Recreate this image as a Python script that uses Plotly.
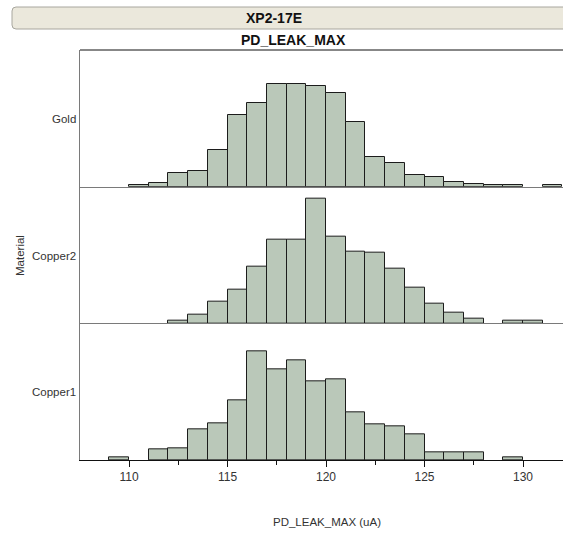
import plotly.graph_objects as go
from plotly.subplots import make_subplots

# Histogram bins (left edges, width 1 uA) and counts per material
bin_left = list(range(109, 132))
materials = ["Gold", "Copper2", "Copper1"]
gold_counts = [0, 1, 3, 11, 13, 31, 60, 70, 86, 86, 84, 78, 54, 25, 20, 10, 8, 4, 2, 1, 1, 0, 1]
copper2_counts = [0, 0, 0, 2, 7, 18, 28, 47, 70, 70, 104, 72, 60, 59, 46, 30, 16, 9, 4, 0, 2, 2, 0]
copper1_counts = [2, 0, 9, 10, 26, 31, 50, 91, 76, 83, 66, 67, 40, 30, 28, 21, 6, 6, 6, 0, 2, 0, 0]
counts = [gold_counts, copper2_counts, copper1_counts]

x_ticks = [110, 115, 120, 125, 130]
chart_title = "XP2-17E"
var_title = "PD_LEAK_MAX"
x_title = "PD_LEAK_MAX (uA)"
y_title = "Material"

W, H = 563, 533
L, R, T, B = 80, 0, 50, 73
PW, PH = W - L - R, H - T - B

def fx(px):
    return (px - L) / PW

def fy(py):
    return (H - B - py) / PH

FONT = "Liberation Sans, Arial, sans-serif"
BAR_FILL = "#bac8b9"
BAR_EDGE = "#1c1c1c"

fig = make_subplots(rows=3, cols=1, shared_xaxes=True, vertical_spacing=0)

for i, (name, c) in enumerate(zip(materials, counts)):
    xs = [b + 0.5 for b, v in zip(bin_left, c) if v > 0]
    ys = [v for v in c if v > 0]
    fig.add_trace(
        go.Bar(x=xs, y=ys, width=1, name=name, showlegend=False,
               marker=dict(color=BAR_FILL, line=dict(color=BAR_EDGE, width=1))),
        row=i + 1, col=1)

x_range = [107.51, 132.03]
for r in (1, 2, 3):
    fig.update_xaxes(range=x_range, showgrid=False, zeroline=False, showline=True,
                     row=r, col=1)
    fig.update_yaxes(range=[0, 114], showgrid=False, zeroline=False, showline=True,
                     linecolor="#7a7a7a", linewidth=1, showticklabels=False, ticks="",
                     row=r, col=1)

for r in (1, 2):
    fig.update_xaxes(linecolor="#7a7a7a", linewidth=1, ticks="", showticklabels=False,
                     row=r, col=1)

fig.update_xaxes(linecolor="#111111", linewidth=1, ticks="outside", ticklen=6,
                 tickcolor="#111111", tickvals=x_ticks,
                 ticktext=[str(v) for v in x_ticks],
                 tickfont=dict(family=FONT, size=12, color="#333333"),
                 minor=dict(dtick=2.5, tick0=110, ticks="outside", ticklen=4,
                            tickcolor="#111111"),
                 row=3, col=1)

shapes = []
# Title bar with rounded corners
x0, x1 = fx(12), fx(580)
y0, y1 = fy(29), fy(7)
rx, ry = 4 / PW, 4 / PH
path = (f"M {x0 + rx},{y1} L {x1},{y1} L {x1},{y0} L {x0 + rx},{y0} "
        f"Q {x0},{y0} {x0},{y0 + ry} L {x0},{y1 - ry} Q {x0},{y1} {x0 + rx},{y1} Z")
shapes.append(dict(type="path", xref="paper", yref="paper", path=path,
                   fillcolor="#ebe8dc", line=dict(color="#a8a69e", width=1)))
# Top frame line
shapes.append(dict(type="line", xref="paper", yref="paper", x0=0, x1=1.05, y0=1, y1=1,
                   line=dict(color="#111111", width=1)))

annotations = [
    dict(text=chart_title, x=fx(274), y=fy(18), xref="paper", yref="paper",
         showarrow=False, xanchor="center", yanchor="middle",
         font=dict(family=FONT, size=14, color="#111111", weight="bold")),
    dict(text=var_title, x=fx(293), y=fy(40), xref="paper", yref="paper",
         showarrow=False, xanchor="center", yanchor="middle",
         font=dict(family=FONT, size=14, color="#111111", weight="bold")),
    dict(text=x_title, x=fx(327), y=fy(522), xref="paper", yref="paper",
         showarrow=False, xanchor="center", yanchor="middle",
         font=dict(family=FONT, size=11.5, color="#333333")),
    dict(text=y_title, x=fx(20), y=fy(256), xref="paper", yref="paper",
         showarrow=False, xanchor="center", yanchor="middle", textangle=-90,
         font=dict(family=FONT, size=11.5, color="#333333")),
]
for name, py in zip(materials, [119, 256, 392]):
    annotations.append(dict(text=name, x=fx(78), y=fy(py), xref="paper", yref="paper",
                            showarrow=False, xanchor="right", yanchor="middle",
                            font=dict(family=FONT, size=11.5, color="#333333")))

fig.update_layout(
    width=W, height=H,
    margin=dict(l=L, r=R, t=T, b=B),
    paper_bgcolor="white", plot_bgcolor="white",
    bargap=0, showlegend=False,
    shapes=shapes, annotations=annotations,
    font=dict(family=FONT),
)

fig.write_html("out.html")
